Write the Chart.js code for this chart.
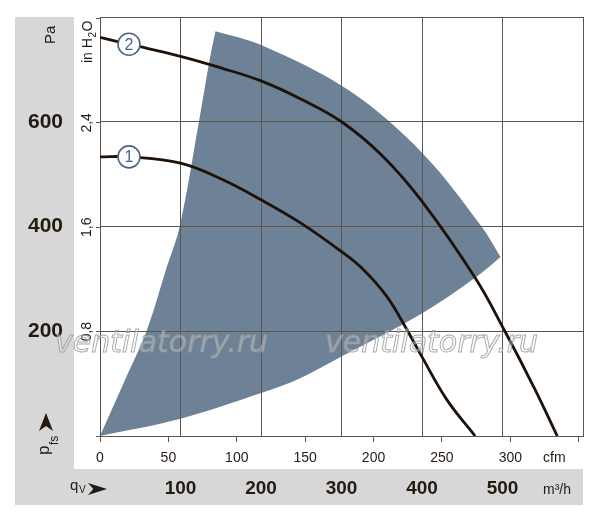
<!DOCTYPE html>
<html>
<head>
<meta charset="utf-8">
<script src="https://cdn.jsdelivr.net/npm/chart.js@4.4.1/dist/chart.umd.min.js"></script>
<style>
  html, body { margin: 0; padding: 0; background: #fff; }
  #wrap { width: 600px; height: 523px; }
</style>
</head>
<body>
<div id="wrap"><canvas id="fan-chart" width="600" height="523"></canvas></div>
<script>
const CFM_TO_M3H = 1.699;
const PA_PER_INH2O = 249.09;
const FLOW_MAX = 600;   // m3/h
const PRESS_MAX = 800;  // Pa

// curve 1
const flow1 = [0, 36, 100, 150, 200, 250, 300, 327, 356, 382, 400, 431, 466];
const press1 = [533, 533, 521, 491, 451, 406, 352, 318, 267, 201, 151, 69, 0];

// curve 2
const flow2 = [0, 36, 100, 150, 200, 250, 300, 350, 400, 466, 503, 540, 568];
const press2 = [761, 748, 725, 703, 678, 643, 600, 536, 448, 302, 200, 90, 0];

// recommended operating range, closed outline (corner points doubled)
const rangeFlow = [0, 31, 58, 82, 99, 123, 137, 143.5, 143.5, 201, 310, 400, 474, 497.5, 497.5, 466, 400, 300, 248, 200, 100, 0];
const rangePress = [0, 107, 201, 318, 400, 601, 725, 773, 773, 746, 659, 541, 400, 342, 342, 302, 234, 152, 110, 82, 33, 0];

// numbered curve markers
const markerNames = ['2', '1'];
const markerFlow = [36, 36];
const markerPress = [748, 533];

const INK = '#231a12';
const SLATE = '#4d6580';
const GRID = '#5e564c';
const SANS = "'Liberation Sans', Arial, sans-serif";
const WATERMARK = 'ventilatorry.ru';

const toPoints = (xs, ys) => xs.map((x, i) => ({ x, y: ys[i] }));

// the frame is fixed by hand, so drop the label overhang padding
const noPad = (s) => {
  s.paddingTop = 0;
  s.paddingBottom = 0;
  s.paddingLeft = 0;
  s.paddingRight = 0;
};

function arrowHead(ctx, x, y, angle, len, half) {
  ctx.save();
  ctx.translate(x, y);
  ctx.rotate(angle);
  ctx.beginPath();
  ctx.moveTo(0, 0);
  ctx.lineTo(-len, -half);
  ctx.lineTo(-len * 0.72, 0);
  ctx.lineTo(-len, half);
  ctx.closePath();
  ctx.fill();
  ctx.restore();
}

function upText(ctx, x, y, parts) {
  // parts drawn bottom-to-top, each {text, size, dy}
  ctx.save();
  ctx.translate(x, y);
  ctx.rotate(-Math.PI / 2);
  ctx.textAlign = 'left';
  ctx.textBaseline = 'alphabetic';
  let pos = 0;
  parts.forEach(({ text, size, dy }) => {
    ctx.font = `${size}px ${SANS}`;
    ctx.fillText(text, pos, dy);
    pos += ctx.measureText(text).width + 0.5;
  });
  ctx.restore();
}

const framePlugin = {
  id: 'frame',
  beforeDraw(chart) {
    const { ctx, chartArea: a } = chart;
    ctx.save();
    // painted behind the range fill that the filler has already drawn
    ctx.globalCompositeOperation = 'destination-over';
    ctx.fillStyle = '#ffffff';
    ctx.fillRect(a.left - 26, 0, chart.width, a.bottom + 33);
    ctx.fillStyle = '#d7d7d7';
    ctx.fillRect(a.left - 85, a.top, a.right - a.left + 85, a.bottom - a.top + 69);
    ctx.restore();
  },
  afterDatasetsDraw(chart) {
    const { ctx } = chart;
    const meta = chart.getDatasetMeta(3);
    ctx.save();
    ctx.fillStyle = SLATE;
    ctx.font = `16px ${SANS}`;
    ctx.textAlign = 'center';
    ctx.textBaseline = 'middle';
    meta.data.forEach((pt, i) => ctx.fillText(markerNames[i], pt.x, pt.y + 1));
    ctx.restore();
  },
  afterDraw(chart) {
    const { ctx, chartArea: a } = chart;
    const yi = chart.scales.yi;
    ctx.save();
    ctx.fillStyle = INK;

    // inH2O tick labels
    ctx.font = `14px ${SANS}`;
    yi.ticks.forEach(({ value }) => {
      if (value <= 0 || value >= 3) return;
      ctx.save();
      ctx.translate(a.left - 13, yi.getPixelForValue(value));
      ctx.rotate(-Math.PI / 2);
      ctx.textAlign = 'center';
      ctx.textBaseline = 'middle';
      ctx.fillText(value.toFixed(1).replace('.', ','), 0, 0);
      ctx.restore();
    });

    // axis unit titles
    upText(ctx, a.left - 13, a.top + 46, [
      { text: 'in H', size: 14, dy: 5 },
      { text: '2', size: 10, dy: 8.5 },
      { text: 'O', size: 14, dy: 5 },
    ]);
    upText(ctx, a.left - 51, a.top + 27, [{ text: 'Pa', size: 15, dy: 5.5 }]);
    upText(ctx, a.left - 52, a.bottom + 19, [
      { text: 'p', size: 17, dy: 0.5 },
      { text: 'fs', size: 12, dy: 10 },
    ]);
    arrowHead(ctx, a.left - 54, a.bottom - 23, -Math.PI / 2, 18, 7);

    ctx.font = `15px ${SANS}`;
    ctx.textAlign = 'left';
    ctx.textBaseline = 'alphabetic';
    ctx.fillText('q', a.left - 30, a.bottom + 54);
    ctx.font = `10px ${SANS}`;
    ctx.fillText('V', a.left - 21, a.bottom + 57);
    arrowHead(ctx, a.left + 7, a.bottom + 53, 0, 19, 6);

    ctx.font = `14px ${SANS}`;
    ctx.textBaseline = 'middle';
    ctx.fillText('cfm', a.right - 40, a.bottom + 22);
    ctx.fillText('m³/h', a.right - 40, a.bottom + 54);

    // watermark
    ctx.font = "italic 30px 'DejaVu Sans', sans-serif";
    ctx.textBaseline = 'alphabetic';
    ctx.lineWidth = 1;
    ctx.fillStyle = 'rgba(255,255,255,0.3)';
    ctx.strokeStyle = 'rgba(150,150,150,0.8)';
    [a.left - 45, a.left + 225].forEach((wx) => {
      ctx.fillText(WATERMARK, wx, a.bottom - 84);
      ctx.strokeText(WATERMARK, wx, a.bottom - 84);
    });
    ctx.restore();
  },
};

const curveStyle = {
  borderColor: '#1e1108',
  borderWidth: 2.8,
  pointRadius: 0,
  fill: false,
  tension: 0.4,
  xAxisID: 'x',
  yAxisID: 'y',
  order: 2,
};

new Chart(document.getElementById('fan-chart'), {
  type: 'line',
  data: {
    datasets: [
      {
        label: 'range',
        data: toPoints(rangeFlow, rangePress),
        borderColor: 'rgba(0,0,0,0)',
        backgroundColor: '#6e8297',
        pointRadius: 0,
        tension: 0.35,
        fill: 'shape',
        xAxisID: 'x',
        yAxisID: 'y',
        order: 3,
      },
      { ...curveStyle, label: '1', data: toPoints(flow1, press1) },
      { ...curveStyle, label: '2', data: toPoints(flow2, press2) },
      {
        label: 'markers',
        data: toPoints(markerFlow, markerPress),
        showLine: false,
        pointRadius: 11,
        pointBackgroundColor: '#ffffff',
        pointBorderColor: SLATE,
        pointBorderWidth: 1.6,
        xAxisID: 'x',
        yAxisID: 'y',
        order: 1,
      },
    ],
  },
  options: {
    responsive: false,
    animation: false,
    events: [],
    layout: { padding: { top: 17, right: 17, bottom: 18, left: 0 } },
    plugins: {
      legend: { display: false },
      tooltip: { enabled: false },
      filler: { drawTime: 'beforeDraw' },
    },
    scales: {
      x: {
        type: 'linear',
        position: 'bottom',
        weight: 1,
        min: 0,
        max: FLOW_MAX,
        grid: { color: GRID, lineWidth: 1, drawTicks: false },
        border: { display: false },
        ticks: {
          stepSize: 100,
          autoSkip: false,
          maxRotation: 0,
          padding: 8,
          color: INK,
          font: { family: SANS, size: 19, weight: 'bold' },
          callback: (v) => (v > 0 && v < FLOW_MAX ? String(v) : ''),
        },
        afterFit: (s) => { noPad(s); s.height = 36; },
      },
      xc: {
        type: 'linear',
        position: 'bottom',
        weight: 0,
        min: 0,
        max: FLOW_MAX / CFM_TO_M3H,
        grid: { drawOnChartArea: false, tickLength: 6, color: GRID },
        border: { display: true, color: GRID },
        ticks: {
          stepSize: 50,
          includeBounds: false,
          autoSkip: false,
          maxRotation: 0,
          padding: 8,
          color: INK,
          font: { family: SANS, size: 14 },
          callback: (v) => (v < 350 ? String(v) : ''),
        },
        afterFit: (s) => { noPad(s); s.height = 33; },
      },
      y: {
        type: 'linear',
        position: 'left',
        weight: 1,
        min: 0,
        max: PRESS_MAX,
        grid: { color: GRID, lineWidth: 1, drawTicks: false },
        border: { display: false },
        ticks: {
          stepSize: 200,
          padding: 11,
          color: INK,
          font: { family: SANS, size: 21, weight: 'bold' },
          callback: (v) => (v > 0 && v < PRESS_MAX ? String(v) : ''),
        },
        afterFit: (s) => { noPad(s); s.width = 74; },
      },
      yi: {
        type: 'linear',
        position: 'left',
        weight: 0,
        min: 0,
        max: PRESS_MAX / PA_PER_INH2O,
        grid: { drawOnChartArea: false, tickLength: 4, color: GRID },
        border: { display: true, color: GRID },
        ticks: { display: false, stepSize: 0.8, includeBounds: false },
        afterFit: (s) => { noPad(s); s.width = 26; },
      },
    },
  },
  plugins: [framePlugin],
});
</script>
</body>
</html>
